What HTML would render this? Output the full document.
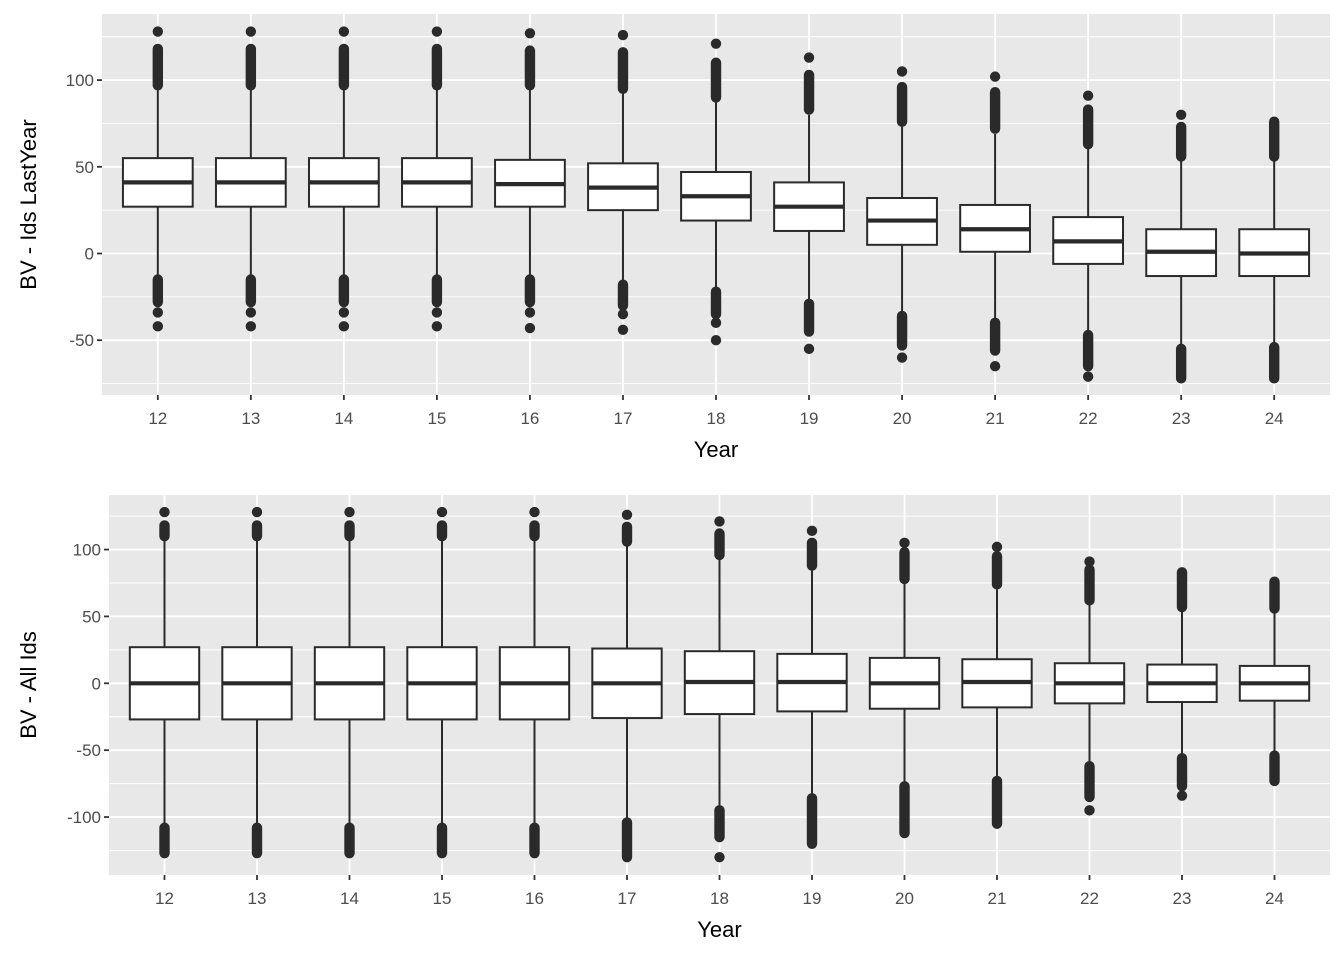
<!DOCTYPE html>
<html><head><meta charset="utf-8"><style>
body{margin:0;background:#fff}
svg{display:block;font-family:"Liberation Sans",Arial,sans-serif}
</style></head><body>
<svg id="chart" width="1344" height="960"></svg>
<script>
const years = ["12","13","14","15","16","17","18","19","20","21","22","23","24"];
// top panel: BV - Ids LastYear
const topQ1 = [27,27,27,27,27,25,19,13,5,1,-6,-13,-13];
const topMed = [41,41,41,41,40,38,33,27,19,14,7,1,0];
const topQ3 = [55,55,55,55,54,52,47,41,32,28,21,14,14];
const topWLo = [-13,-13,-13,-13,-13,-16,-20,-27,-34,-38,-45,-53,-53];
const topWHi = [96,96,96,96,96,93,88,80,74,69,61,54,54];
const topOutHiCluster = [[97,118],[97,118],[97,118],[97,118],[97,117],[95,116],[90,110],[83,103],[76,96],[72,93],[63,83],[56,73],[56,76]];
const topOutHiSingle = [128,128,128,128,127,126,121,113,105,102,91,80,null];
const topOutLoCluster = [[-15,-28],[-15,-28],[-15,-28],[-15,-28],[-15,-28],[-18,-30],[-22,-35],[-29,-45],[-36,-53],[-40,-56],[-47,-65],[-55,-71],[-54,-72]];
const topOutLoSingle = [[-34,-42],[-34,-42],[-34,-42],[-34,-42],[-34,-43],[-35,-44],[-40,-50],[-55],[-60],[-65],[-71],[-72],[]];
// bottom panel: BV - All Ids
const botQ1 = [-27,-27,-27,-27,-27,-26,-23,-21,-19,-18,-15,-14,-13];
const botMed = [0,0,0,0,0,0,1,1,0,1,0,0,0];
const botQ3 = [27,27,27,27,27,26,24,22,19,18,15,14,13];
const botWLo = [-107,-107,-107,-107,-107,-103,-93,-84,-75,-71,-61,-54,-53];
const botWHi = [108,108,108,108,108,104,94,86,76,72,60,55,54];
const botOutHiCluster = [[110,118],[110,118],[110,118],[110,118],[110,118],[106,117],[96,112],[88,105],[78,98],[74,95],[62,85],[57,83],[56,76]];
const botOutHiSingle = [128,128,128,128,128,126,121,114,105,102,91,null,null];
const botOutLoCluster = [[-108,-127],[-108,-127],[-108,-127],[-108,-127],[-108,-127],[-104,-130],[-95,-115],[-86,-120],[-77,-112],[-73,-105],[-62,-85],[-56,-77],[-54,-73]];
const botOutLoSingle = [[],[],[],[],[],[],[-130],[],[],[],[-95],[-84],[]];
const topTicks = [-50,0,50,100];
const botTicks = [-100,-50,0,50,100];

const NS="http://www.w3.org/2000/svg";
const svg=document.getElementById('chart');
function mk(tag,attrs,parent){const e=document.createElementNS(NS,tag);for(const k in attrs)e.setAttribute(k,attrs[k]);(parent||svg).appendChild(e);return e;}

function panel(cfg){
  const g=mk('g',{});
  
  
  const {L,R,T,B,vTop,vBot}=cfg;
  const y=v=>T+(vTop-v)/(vTop-vBot)*(B-T);
  const step=(R-L)/(years.length-1+1.2);
  const x=i=>L+step*(i+0.6);
  const bg=mk('rect',{x:L,y:T,width:R-L,height:B-T,fill:'#e8e8e8'},g);
  
  
  const t=cfg.ticks, d=t[1]-t[0];
  for(let v=t[0]-d/2; v<=vTop; v+=d){ if(v>=vBot) mk('line',{x1:L,x2:R,y1:y(v),y2:y(v),stroke:'#fff','stroke-width':0.9},g); }
  t.forEach(v=>{
    mk('line',{x1:L,x2:R,y1:y(v),y2:y(v),stroke:'#fff','stroke-width':1.8},g);
    mk('line',{x1:L-5,x2:L,y1:y(v),y2:y(v),stroke:'#333','stroke-width':1.8},g);
    const tx=mk('text',{x:L-8,y:y(v)+6,'text-anchor':'end','font-size':17,fill:'#4d4d4d'},g);
    tx.textContent=v;
    
    
  });
  years.forEach((yr,i)=>{
    const cx=x(i);
    mk('line',{x1:cx,x2:cx,y1:T,y2:B,stroke:'#fff','stroke-width':1.8},g);
    mk('line',{x1:cx,x2:cx,y1:B,y2:B+5,stroke:'#333','stroke-width':1.8},g);
    const tx=mk('text',{x:cx,y:B+29,'text-anchor':'middle','font-size':17,fill:'#4d4d4d'},g);
    tx.textContent=yr;
    
    
  });
  const hw=step*0.375;
  years.forEach((yr,i)=>{
    const cx=x(i);
    const bx=mk('g',{},g);
    
    
    mk('line',{x1:cx,x2:cx,y1:y(cfg.wHi[i]),y2:y(cfg.q3[i]),stroke:'#2a2a2a','stroke-width':2},bx);
    mk('line',{x1:cx,x2:cx,y1:y(cfg.q1[i]),y2:y(cfg.wLo[i]),stroke:'#2a2a2a','stroke-width':2},bx);
    mk('rect',{x:cx-hw,y:y(cfg.q3[i]),width:2*hw,height:y(cfg.q1[i])-y(cfg.q3[i]),fill:'#fff',stroke:'#2a2a2a','stroke-width':2},bx);
    mk('line',{x1:cx-hw,x2:cx+hw,y1:y(cfg.med[i]),y2:y(cfg.med[i]),stroke:'#2a2a2a','stroke-width':4.2},bx);
    const r=5.2;
    [cfg.hiC[i],cfg.loC[i]].forEach(c=>{
      const a=Math.min(y(c[0]),y(c[1])), b=Math.max(y(c[0]),y(c[1]));
      mk('rect',{x:cx-r,y:a-r,width:2*r,height:b-a+2*r,rx:r,ry:r,fill:'#2a2a2a'},bx);
    });
    if(cfg.hiS[i]!=null) mk('circle',{cx:cx,cy:y(cfg.hiS[i]),r:r,fill:'#2a2a2a'},bx);
    cfg.loS[i].forEach(v=>mk('circle',{cx:cx,cy:y(v),r:r,fill:'#2a2a2a'},bx));
  });
  const xt=mk('text',{x:(L+R)/2,y:B+62,'text-anchor':'middle','font-size':22,fill:'#000'},g);
  xt.textContent='Year';
  
  
  const yc=(T+B)/2;
  const yt=mk('text',{x:36,y:yc,'text-anchor':'middle','font-size':22,fill:'#000',transform:`rotate(-90 36 ${yc})`},g);
  yt.textContent=cfg.title;
  
  
}
panel({name:'top-panel',L:102,R:1330,T:14,B:395,vTop:(253.5-14)/1.734,vBot:(253.5-395)/1.734,ticks:topTicks,
  q1:topQ1,med:topMed,q3:topQ3,wLo:topWLo,wHi:topWHi,hiC:topOutHiCluster,hiS:topOutHiSingle,loC:topOutLoCluster,loS:topOutLoSingle,title:'BV - Ids LastYear'});
panel({name:'bottom-panel',L:109,R:1330,T:495,B:875,vTop:(683.3-495)/1.3375,vBot:(683.3-875)/1.3375,ticks:botTicks,
  q1:botQ1,med:botMed,q3:botQ3,wLo:botWLo,wHi:botWHi,hiC:botOutHiCluster,hiS:botOutHiSingle,loC:botOutLoCluster,loS:botOutLoSingle,title:'BV - All Ids'});
</script>
</body></html>
